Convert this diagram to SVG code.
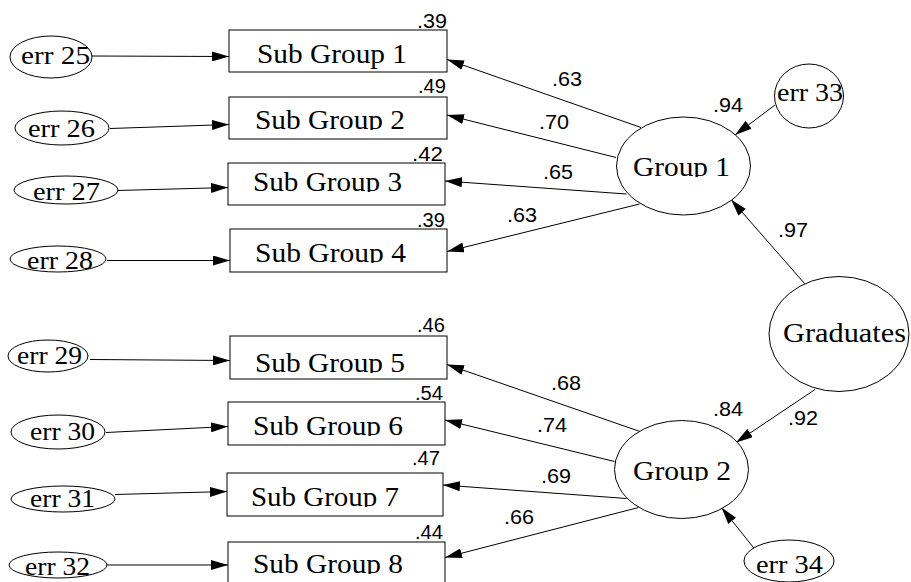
<svg xmlns="http://www.w3.org/2000/svg" width="911" height="582" viewBox="0 0 911 582">
<style>
.bx{fill:#fff;stroke:#000;stroke-width:1}
.el{fill:#fff;stroke:#000;stroke-width:1}
.ln{fill:none;stroke:#000;stroke-width:1;marker-end:url(#ah)}
.st{font-family:"Liberation Serif","Times New Roman",serif;font-size:27px;fill:#000}
.gt{font-family:"Liberation Serif","Times New Roman",serif;font-size:28px;fill:#000}
.et{font-family:"Liberation Serif","Times New Roman",serif;font-size:26px;fill:#000}
.nt{font-family:"Liberation Sans",Arial,sans-serif;font-size:20px;fill:#000}
</style>
<defs>
<marker id="ah" markerUnits="userSpaceOnUse" markerWidth="17" markerHeight="10" refX="17" refY="5" orient="auto">
<path d="M0,0 L17,5 L0,10 z" fill="#000"/>
</marker>
<clipPath id="c2"><rect x="229" y="97" width="218" height="33"/></clipPath>
<clipPath id="c3"><rect x="228" y="163" width="217" height="29"/></clipPath>
<clipPath id="c4"><rect x="230" y="229" width="217" height="34"/></clipPath>
<clipPath id="c5"><rect x="230" y="336" width="217" height="37"/></clipPath>
<clipPath id="c6"><rect x="228" y="402" width="217" height="34"/></clipPath>
<clipPath id="c7"><rect x="227" y="473" width="216" height="34"/></clipPath>
<clipPath id="c8"><rect x="228" y="542" width="217" height="32"/></clipPath>
<clipPath id="cg1"><rect x="617" y="117" width="134" height="60"/></clipPath>
<clipPath id="cg2"><rect x="615" y="421" width="134" height="60"/></clipPath>
</defs>

<g id="connectors">
<line class="ln" x1="92" y1="56" x2="229" y2="56.5"/>
<line class="ln" x1="110" y1="128.5" x2="229" y2="124.5"/>
<line class="ln" x1="117.5" y1="190.5" x2="228" y2="187.5"/>
<line class="ln" x1="107" y1="260.5" x2="230" y2="260.5"/>
<line class="ln" x1="90" y1="359.5" x2="230" y2="360.5"/>
<line class="ln" x1="106" y1="432.5" x2="228" y2="426.5"/>
<line class="ln" x1="115" y1="494.5" x2="227" y2="491.5"/>
<line class="ln" x1="106" y1="565" x2="228" y2="565"/>
<line class="ln" x1="641" y1="127.5" x2="447" y2="59.5"/>
<line class="ln" x1="616" y1="157.5" x2="447" y2="115"/>
<line class="ln" x1="626.5" y1="194" x2="445" y2="181"/>
<line class="ln" x1="639.5" y1="204" x2="447" y2="251.5"/>
<line class="ln" x1="775" y1="105" x2="735" y2="135"/>
<line class="ln" x1="804.5" y1="283.5" x2="731" y2="199.5"/>
<line class="ln" x1="640" y1="431.5" x2="447" y2="364.5"/>
<line class="ln" x1="614.5" y1="461.5" x2="445" y2="420"/>
<line class="ln" x1="626.5" y1="498.5" x2="443" y2="485"/>
<line class="ln" x1="638.5" y1="507.5" x2="445" y2="557.5"/>
<line class="ln" x1="815" y1="389.5" x2="736" y2="442.5"/>
<line class="ln" x1="755" y1="549.5" x2="721.5" y2="507.5"/>
</g>

<g id="labels">
<text class="nt" x="552" y="86" textLength="30" lengthAdjust="spacingAndGlyphs">.63</text>
<text class="nt" x="539" y="129" textLength="30" lengthAdjust="spacingAndGlyphs">.70</text>
<text class="nt" x="543" y="179" textLength="30" lengthAdjust="spacingAndGlyphs">.65</text>
<text class="nt" x="507" y="222" textLength="30" lengthAdjust="spacingAndGlyphs">.63</text>
<text class="nt" x="713" y="112" textLength="30" lengthAdjust="spacingAndGlyphs">.94</text>
<text class="nt" x="778" y="237" textLength="30" lengthAdjust="spacingAndGlyphs">.97</text>
<text class="nt" x="551" y="390" textLength="30" lengthAdjust="spacingAndGlyphs">.68</text>
<text class="nt" x="537" y="432" textLength="30" lengthAdjust="spacingAndGlyphs">.74</text>
<text class="nt" x="541" y="483" textLength="30" lengthAdjust="spacingAndGlyphs">.69</text>
<text class="nt" x="504" y="524" textLength="30" lengthAdjust="spacingAndGlyphs">.66</text>
<text class="nt" x="713" y="416" textLength="30" lengthAdjust="spacingAndGlyphs">.84</text>
<text class="nt" x="788" y="425" textLength="30" lengthAdjust="spacingAndGlyphs">.92</text>
</g>

<g id="sg1"><rect class="bx" x="229" y="30" width="218" height="42"/><text class="st" x="257" y="63" textLength="150" lengthAdjust="spacingAndGlyphs">Sub Group 1</text><text class="nt" x="417" y="28" textLength="30" lengthAdjust="spacingAndGlyphs">.39</text></g>
<g id="sg2"><rect class="bx" x="229" y="97" width="218" height="42"/><text class="st" x="255" y="129" textLength="150" lengthAdjust="spacingAndGlyphs" clip-path="url(#c2)">Sub Group 2</text><text class="nt" x="418" y="93" textLength="28" lengthAdjust="spacingAndGlyphs">.49</text></g>
<g id="sg3"><rect class="bx" x="228" y="163" width="217" height="42"/><text class="st" x="253" y="191" textLength="149" lengthAdjust="spacingAndGlyphs" clip-path="url(#c3)">Sub Group 3</text><text class="nt" x="412" y="161" textLength="31" lengthAdjust="spacingAndGlyphs">.42</text></g>
<g id="sg4"><rect class="bx" x="230" y="229" width="217" height="43"/><text class="st" x="255" y="262" textLength="151" lengthAdjust="spacingAndGlyphs" clip-path="url(#c4)">Sub Group 4</text><text class="nt" x="417" y="227" textLength="28" lengthAdjust="spacingAndGlyphs">.39</text></g>
<g id="sg5"><rect class="bx" x="230" y="336" width="217" height="43"/><text class="st" x="255" y="372" textLength="150" lengthAdjust="spacingAndGlyphs" clip-path="url(#c5)">Sub Group 5</text><text class="nt" x="417" y="332" textLength="28" lengthAdjust="spacingAndGlyphs">.46</text></g>
<g id="sg6"><rect class="bx" x="228" y="402" width="217" height="43"/><text class="st" x="253" y="435" textLength="150" lengthAdjust="spacingAndGlyphs" clip-path="url(#c6)">Sub Group 6</text><text class="nt" x="415" y="400" textLength="28" lengthAdjust="spacingAndGlyphs">.54</text></g>
<g id="sg7"><rect class="bx" x="227" y="473" width="216" height="43"/><text class="st" x="251" y="506" textLength="148" lengthAdjust="spacingAndGlyphs" clip-path="url(#c7)">Sub Group 7</text><text class="nt" x="412" y="465" textLength="28" lengthAdjust="spacingAndGlyphs">.47</text></g>
<g id="sg8"><rect class="bx" x="228" y="542" width="217" height="43"/><text class="st" x="253" y="573" textLength="150" lengthAdjust="spacingAndGlyphs" clip-path="url(#c8)">Sub Group 8</text><text class="nt" x="415" y="539" textLength="28" lengthAdjust="spacingAndGlyphs">.44</text></g>

<g id="err25"><ellipse class="el" cx="51" cy="57" rx="41" ry="21"/><text class="et" x="21" y="64" textLength="69" lengthAdjust="spacingAndGlyphs">err 25</text></g>
<g id="err26"><ellipse class="el" cx="62" cy="128" rx="47" ry="17"/><text class="et" x="28" y="137" textLength="67" lengthAdjust="spacingAndGlyphs">err 26</text></g>
<g id="err27"><ellipse class="el" cx="66" cy="190" rx="52" ry="14"/><text class="et" x="33" y="200" textLength="67" lengthAdjust="spacingAndGlyphs">err 27</text></g>
<g id="err28"><ellipse class="el" cx="58" cy="259" rx="48" ry="13"/><text class="et" x="27" y="269" textLength="66" lengthAdjust="spacingAndGlyphs">err 28</text></g>
<g id="err29"><ellipse class="el" cx="48" cy="356" rx="40" ry="16"/><text class="et" x="17" y="364" textLength="65" lengthAdjust="spacingAndGlyphs">err 29</text></g>
<g id="err30"><ellipse class="el" cx="58" cy="432" rx="47" ry="17"/><text class="et" x="30" y="440" textLength="65" lengthAdjust="spacingAndGlyphs">err 30</text></g>
<g id="err31"><ellipse class="el" cx="63" cy="499" rx="52" ry="13"/><text class="et" x="30" y="507" textLength="65" lengthAdjust="spacingAndGlyphs">err 31</text></g>
<g id="err32"><ellipse class="el" cx="58" cy="565" rx="49" ry="13"/><text class="et" x="25" y="575" textLength="65" lengthAdjust="spacingAndGlyphs">err 32</text></g>
<g id="err33"><ellipse class="el" cx="809" cy="96" rx="34.5" ry="32"/><text class="et" x="777" y="101" textLength="66" lengthAdjust="spacingAndGlyphs">err 33</text></g>
<g id="err34"><ellipse class="el" cx="789" cy="561" rx="45" ry="21"/><text class="et" x="756" y="573" textLength="67" lengthAdjust="spacingAndGlyphs">err 34</text></g>

<g id="group1"><ellipse class="el" cx="683.5" cy="166" rx="67" ry="49"/><text class="gt" x="633" y="176" textLength="97" lengthAdjust="spacingAndGlyphs" clip-path="url(#cg1)">Group 1</text></g>
<g id="group2"><ellipse class="el" cx="681.5" cy="469.5" rx="67" ry="49"/><text class="gt" x="633" y="480" textLength="98" lengthAdjust="spacingAndGlyphs" clip-path="url(#cg2)">Group 2</text></g>
<g id="graduates"><ellipse class="el" cx="839" cy="334" rx="70" ry="57.5"/><text class="gt" x="783" y="342" textLength="123" lengthAdjust="spacingAndGlyphs">Graduates</text></g>
</svg>
